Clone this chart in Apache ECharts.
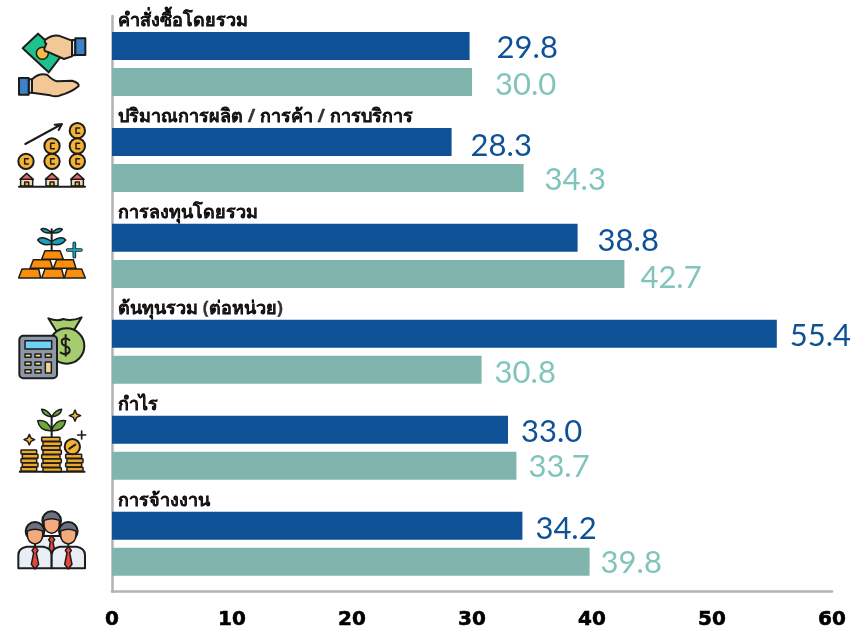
<!DOCTYPE html>
<html>
<head>
<meta charset="utf-8">
<style>
    html, body { margin: 0; padding: 0; background: #fff; }
    #main { width: 858px; height: 630px; }
</style>
<script src="https://cdn.jsdelivr.net/npm/echarts@6/dist/echarts.min.js"></script>
</head>
<body>
<div id="main"></div>
<script>
    const categories = ['คำสั่งซื้อโดยรวม', 'ปริมาณการผลิต / การค้า / การบริการ', 'การลงทุนโดยรวม', 'ต้นทุนรวม (ต่อหน่วย)', 'กำไร', 'การจ้างงาน'];
    const blueValues = [29.8, 28.3, 38.8, 55.4, 33.0, 34.2];
    const tealValues = [30.0, 34.3, 42.7, 30.8, 33.7, 39.8];

    // the value labels sit by hand in the reference, so they are nudged one by one
    const blueNudge = [[14, 2], [6, 4], [7, 3], [0, 2], [0, 2], [0, 3]];
    const tealNudge = [[10, 3], [8, 2], [3, 4], [0, 3], [-1, 1], [-2, 1]];

    const line = 'stroke="#1c1c1c" stroke-width="6" stroke-linejoin="round" stroke-linecap="round"';
    const thin = 'stroke="#1c1c1c" stroke-width="4.5" stroke-linejoin="round" stroke-linecap="round"';

    function coin(x, y) {
        return `<circle cx="${x}" cy="${y}" r="23" fill="#f5b335" ${line}/><path d="M${x + 7} ${y - 8}h-11v16h11" fill="none" ${thin}/>`;
    }
    function house(x) {
        return `<path d="M${x - 18} 558v-20h36v20z" fill="#f6dcb8" ${thin}/><path d="M${x - 20} 538l20-18 20 18z" fill="#e8686a" ${thin}/><path d="M${x - 6} 558v-12h12v12z" fill="#f5b335" ${thin}/>`;
    }
    function bar(points) {
        return `<path d="M${points}z" fill="#fb8f0c" ${thin}/>`;
    }
    function layers(x, w, y0, n, h) {
        let out = '';
        for (let i = 0; i < n; i++) {
            out += `<rect x="${x + (i % 2 ? 4 : 0)}" y="${y0 + i * h}" width="${w}" height="${h - 1}" rx="2" fill="#eda92a" ${thin}/>`;
        }
        return out;
    }
    function person(x, y) {
        return `<path d="M${x - 50} ${y + 108}v-40q0-20 25-25h50q25 5 25 25v40z" fill="#e8edf6" ${line}/>` +
            `<path d="M${x} ${y + 42}l-9 12 5 8-7 34 11 14 11-14-7-34 5-8z" fill="#e8453c" ${thin}/>` +
            `<circle cx="${x}" cy="${y - 3}" r="28" fill="#6a7180" ${line}/>` +
            `<path d="M${x - 23} ${y - 4}q23 -10 46 0v14q-2 22-23 25-21-3-23-25z" fill="#f4ab7c" ${thin}/>`;
    }

    const icons = [
        [0, `<path d="M68 145l46-44 72 64-40 52z" fill="#1fc28c" ${line}/>` +
            `<circle cx="127" cy="160" r="18" fill="#f5bd45" ${thin}/>` +
            `<path d="M216 122l-40-15q-20-3-40 12 -5 8 3 12l-5 12q-4 12 8 12l50 22 24-8z" fill="#f1c896" ${line}/>` +
            `<path d="M216 120h10v46h-10z" fill="#dfe4ea" ${line}/><path d="M226 115h30v50h-30z" fill="#3d82c8" ${line}/>` +
            `<path d="M96 238q20-20 45-14 18 18 30 20l45-2q22 6 20 16-20 18-55 28-14 6-30 0l-55-8z" fill="#f1c896" ${line}/>` +
            `<path d="M86 238h10v40h-10z" fill="#dfe4ea" ${line}/><path d="M57 234h29v50h-29z" fill="#3d82c8" ${line}/>`],
        [96, `<g transform="translate(0,-288)"><path d="M76 432l110-60m-22 2l22-2-10 18" fill="none" ${line}/>` +
            coin(232, 392) + coin(232, 438) + coin(232, 484) + coin(156, 438) + coin(156, 484) + coin(78, 484) +
            house(80) + house(156) + house(232) + `<path d="M57 560h198" ${line}/></g>`],
        [200, `<path d="M155 150v-62" fill="none" ${line}/>` +
            `<path d="M155 125q-30-20-42-5 15 20 42 12z" fill="#17a2b8" ${thin}/><path d="M155 125q30-20 42-5-15 20-42 12z" fill="#17a2b8" ${thin}/>` +
            `<path d="M155 98q-22-18-32-10 10 14 32 10z" fill="#17a2b8" ${thin}/><path d="M155 98q22-18 32-10-10 14-32 10z" fill="#17a2b8" ${thin}/>` +
            `<path d="M223 130v40M203 150h40" stroke="#1c1c1c" stroke-width="11" stroke-linecap="round"/><path d="M223 130v40M203 150h40" stroke="#17a2b8" stroke-width="6" stroke-linecap="round"/>` +
            bar('125 178l10-26h45l10 26') + bar('90 205l10-26h50l8 26') + bar('160 205l10-26h50l8 26') +
            bar('56 234l10-27h50l6 27') + bar('125 234l10-27h50l7 27') + bar('193 234l8-27h44l11 27')],
        [296, `<g transform="translate(0,-288)"><path d="M170 395l-25-40q28 10 45 2 25 8 55-5l-25 42z" fill="#a6cc6e" ${line}/>` +
            `<circle cx="200" cy="438" r="53" fill="#a6cc6e" ${line}/>` +
            `<path d="M208 420q-12-10-22 0-4 14 10 18 16 4 12 18-10 12-26 2M197 405v62" fill="none" ${line}/>` +
            `<rect x="58" y="407" width="113" height="128" rx="12" fill="#8d97a8" ${line}/>` +
            `<rect x="75" y="422" width="80" height="25" fill="#6fd2f2" ${thin}/>` +
            `<path d="M75 462h18v10h-18zM105 462h18v10h-18zM136 462h18v10h-18zM75 486h18v10h-18zM105 486h18v10h-18zM75 509h18v10h-18zM105 509h18v10h-18z" fill="#f3d68f" ${thin}/>` +
            `<rect x="136" y="486" width="18" height="33" fill="#f3d68f" ${thin}/></g>`],
        [400, `<path d="M155 112v-60" fill="none" ${line}/>` +
            `<path d="M155 92q-10-35-42-30 5 32 42 30z" fill="#6fa83a" ${thin}/><path d="M155 92q10-35 42-30-5 32-42 30z" fill="#6fa83a" ${thin}/>` +
            `<path d="M155 50q-14-22-30-22 4 20 30 22z" fill="#6fa83a" ${thin}/><path d="M155 50q14-22 30-22-4 20-30 22z" fill="#6fa83a" ${thin}/>` +
            `<path d="M225 30l5 12 12 5-12 5-5 12-5-12-12-5 12-5zM88 103l5 11 11 5-11 5-5 11-5-11-11-5 11-5z" fill="#f5b335" ${thin}/>` +
            `<path d="M245 93v24M233 105h24" stroke="#1c1c1c" stroke-width="5" stroke-linecap="round"/>` +
            layers(63, 47, 150, 5, 13) + layers(125, 55, 112, 8, 13) + layers(197, 48, 163, 4, 13) +
            `<circle cx="217" cy="140" r="23" fill="#f5b335" ${line}/><path d="M208 146l18-12" ${line}/>` +
            `<path d="M57 215h199" stroke="#1c1c1c" stroke-width="6"/>`],
        [488, `<g transform="translate(0,-264)">` + person(155, 365) + person(105, 397) + person(205, 397) + `</g>`]
    ];

    function iconUrl(body) {
        const svg = `<svg xmlns="http://www.w3.org/2000/svg" width="100" height="100" viewBox="0 0 300 300">${body}</svg>`;
        return 'data:image/svg+xml;charset=utf-8,' + encodeURIComponent(svg);
    }

    function withLabels(values, nudge) {
        return values.map(function (v, i) {
            return { value: v, label: { offset: nudge[i] } };
        });
    }

    var myChart = echarts.init(document.getElementById('main'));
    var option = {
        animation: false,
        backgroundColor: '#fff',
        grid: { left: 112, right: 26, top: 16, bottom: 38 },
        xAxis: {
            type: 'value',
            min: 0,
            max: 60,
            interval: 10,
            splitLine: { show: false },
            axisLine: { show: true, onZero: false, lineStyle: { color: '#b3b3b3', width: 2.5 } },
            axisTick: { show: false },
            axisLabel: {
                color: '#000',
                fontFamily: 'DejaVu Sans',
                fontWeight: 'bold',
                fontSize: 20,
                margin: 18,
                textBorderColor: '#000',
                textBorderWidth: 0.6
            }
        },
        yAxis: {
            type: 'category',
            inverse: true,
            data: categories,
            axisLine: { show: true, lineStyle: { color: '#b3b3b3', width: 2.5 } },
            axisTick: { show: false },
            axisLabel: { show: false }
        },
        series: [
            {
                type: 'bar',
                data: withLabels(blueValues, blueNudge),
                barWidth: 28,
                barGap: '28.6%',
                itemStyle: { color: '#0f5196' },
                label: { show: true, position: 'right', distance: 13, color: '#0f5196', fontFamily: 'Lato', fontSize: 31, formatter: function (p) { return p.value.toFixed(1); } }
            },
            {
                type: 'bar',
                data: withLabels(tealValues, tealNudge),
                barWidth: 28,
                itemStyle: { color: '#80b5ad' },
                label: { show: true, position: 'right', distance: 13, color: '#80c4bc', fontFamily: 'Lato', fontSize: 31, formatter: function (p) { return p.value.toFixed(1); } }
            },
            {
                // category names sit above each pair of bars, carried by empty points on the axis
                type: 'scatter',
                symbolSize: 0,
                silent: true,
                data: categories.map(function (c) { return [0, c]; }),
                label: {
                    show: true,
                    position: 'right',
                    distance: 0,
                    offset: [6, -43],
                    color: '#000',
                    fontFamily: 'Noto Sans, sans-serif',
                    fontWeight: 'bold',
                    fontSize: 18,
                    textBorderColor: '#000',
                    textBorderWidth: 0.3,
                    formatter: function (p) { return p.value[1]; }
                }
            }
        ],
        graphic: icons.map(function (ic) {
            return { type: 'image', left: 0, top: ic[0], style: { image: iconUrl(ic[1]), width: 100, height: 100 } };
        })
    };
    option && myChart.setOption(option);
</script>
</body>
</html>
